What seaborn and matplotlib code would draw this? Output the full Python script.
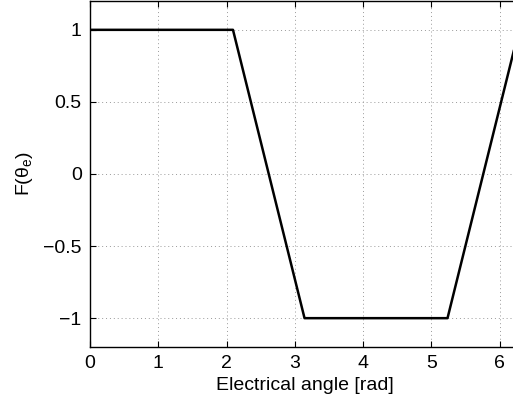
import matplotlib
matplotlib.use("Agg")
import matplotlib.pyplot as plt
import seaborn as sns
import pandas as pd

# Trapezoidal back-EMF shape function over one electrical period
angle_rad = [0.0, 2.094, 3.142, 5.236, 6.283]
f_value = [1.0, 1.0, -1.0, -1.0, 1.0]

x_ticks = [0, 1, 2, 3, 4, 5, 6]
y_ticks = [-1, -0.5, 0, 0.5, 1]
y_tick_labels = ["\u22121", "\u22120.5", "0", "0.5", "1"]

sns.set_theme(style="white")
plt.rcParams["font.family"] = ["Liberation Sans", "DejaVu Sans"]
plt.rcParams["mathtext.fontset"] = "custom"
plt.rcParams["mathtext.rm"] = "Liberation Sans"
plt.rcParams["mathtext.it"] = "Liberation Sans"

df = pd.DataFrame({"angle": angle_rad, "F": f_value})

fig = plt.figure(figsize=(5.13, 3.98), dpi=100)
ax = fig.add_axes([90 / 513, 51 / 398, 429 / 513, 346 / 398])

sns.lineplot(data=df, x="angle", y="F", sort=False, color="black",
             linewidth=1.8, ax=ax)

ax.set_xlim(0, 6.283)
ax.set_ylim(-1.2, 1.2)
ax.set_xticks(x_ticks)
ax.set_yticks(y_ticks)
ax.set_yticklabels(y_tick_labels)

ax.grid(True, linestyle=(0, (1, 3)), color="#999999", linewidth=0.7)
ax.tick_params(direction="in", length=4, width=0.8, color="black",
               labelsize=14, top=True, right=True, bottom=True, left=True,
               labelcolor="black", pad=6)
for s in ax.spines.values():
    s.set_color("black")
    s.set_linewidth(1.0)

ax.set_xlabel("Electrical angle [rad]", fontsize=14, color="black", labelpad=3.5)
ax.set_ylabel(r"F($\mathregular{\theta_{e}}$)", fontsize=14, color="black",
              labelpad=6)

fig.savefig("out.png", dpi=100)
